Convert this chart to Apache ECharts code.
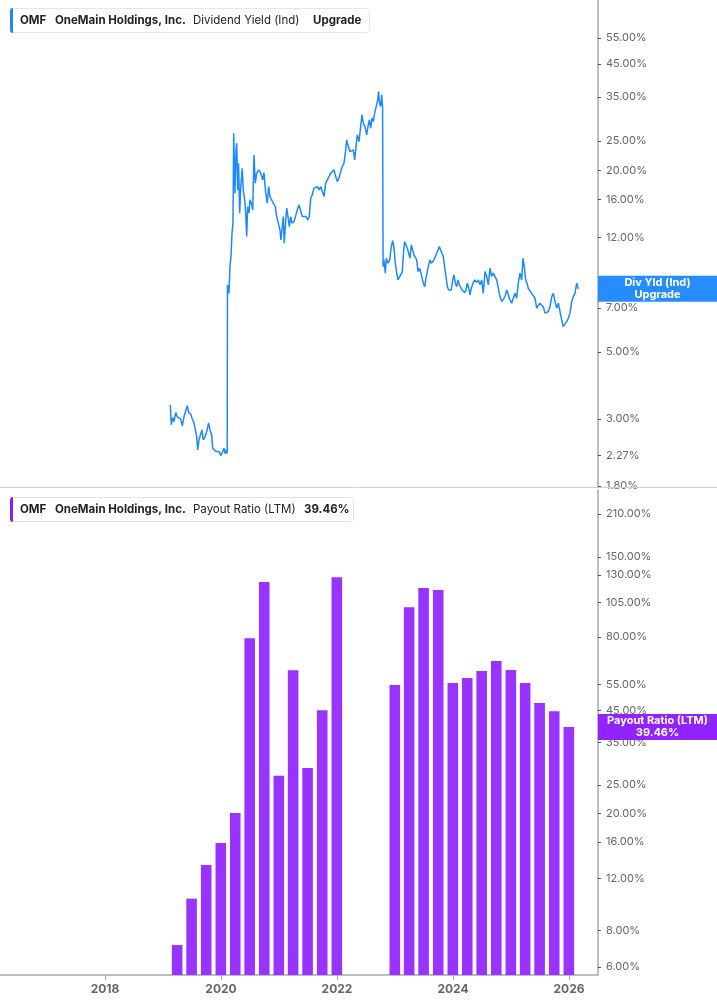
<!DOCTYPE html>
<html><head><meta charset="utf-8">
<script src="https://cdn.jsdelivr.net/npm/echarts@6/dist/echarts.min.js"></script>
<style>html,body{margin:0;padding:0;background:#fff}#c{width:717px;height:1005px}</style>
</head><body><div id="c"></div>
<script>
// Dividend Yield (Ind), % — [decimal year, value]
const dividendYield = [
[2019.126,3.34],[2019.143,2.87],[2019.167,3.03],[2019.190,2.94],[2019.219,3.15],[2019.247,3.05],[2019.276,3.03],[2019.305,3.00],[2019.333,2.85],[2019.362,3.05],
[2019.397,3.22],[2019.419,3.32],[2019.443,3.15],[2019.478,3.12],[2019.505,3.00],[2019.534,2.92],[2019.564,2.91],[2019.581,2.62],[2019.598,2.37],[2019.621,2.56],
[2019.650,2.59],[2019.672,2.76],[2019.695,2.56],[2019.724,2.62],[2019.753,2.72],[2019.786,2.91],[2019.810,2.76],[2019.840,2.66],[2019.857,2.40],[2019.884,2.37],
[2019.914,2.34],[2019.936,2.31],[2019.966,2.34],[2019.995,2.27],[2020.028,2.34],[2020.052,2.40],[2020.074,2.30],[2020.098,2.38],[2020.107,2.31],
[2020.112,8.35],[2020.138,7.83],[2020.155,9.60],[2020.172,10.36],[2020.190,12.38],[2020.207,13.37],[2020.219,26.57],[2020.241,16.81],[2020.259,23.39],[2020.271,24.62],
[2020.288,17.24],[2020.303,21.13],[2020.322,14.43],[2020.338,17.24],[2020.366,20.34],[2020.383,17.24],[2020.409,15.97],[2020.426,14.43],[2020.443,12.07],[2020.460,15.18],
[2020.483,14.43],[2020.500,15.97],[2020.522,15.57],[2020.547,14.80],[2020.569,22.51],[2020.591,18.14],[2020.616,19.58],[2020.650,20.08],[2020.684,19.58],[2020.719,18.61],
[2020.741,19.67],[2020.771,16.81],[2020.798,15.57],[2020.821,17.68],[2020.845,16.38],[2020.874,16.59],[2020.902,15.57],[2020.936,15.18],[2020.960,14.06],[2020.988,13.37],
[2021.017,12.70],[2021.034,11.77],[2021.057,13.02],[2021.074,14.06],[2021.091,11.47],[2021.116,13.71],[2021.133,14.99],[2021.155,14.06],[2021.178,13.02],[2021.202,14.06],
[2021.224,13.37],[2021.259,13.53],[2021.288,13.37],[2021.316,14.80],[2021.345,15.37],[2021.374,15.18],[2021.402,14.06],[2021.431,13.89],[2021.466,14.06],[2021.495,13.71],
[2021.522,14.06],[2021.547,16.18],[2021.574,16.59],[2021.603,17.46],[2021.633,17.24],[2021.660,17.68],[2021.690,17.24],[2021.719,17.68],[2021.747,17.02],[2021.776,16.38],
[2021.805,18.14],[2021.833,18.61],[2021.862,19.08],[2021.891,19.58],[2021.919,19.33],[2021.948,20.08],[2021.978,19.08],[2022.005,18.36],[2022.034,18.85],[2022.064,19.82],
[2022.091,20.59],[2022.121,21.13],[2022.150,23.39],[2022.167,25.24],[2022.195,23.99],[2022.224,23.09],[2022.253,22.80],[2022.281,23.39],[2022.305,21.67],[2022.328,23.99],
[2022.350,26.22],[2022.379,24.92],[2022.409,24.92],[2022.431,30.55],[2022.453,28.68],[2022.483,27.94],[2022.512,26.22],[2022.534,27.94],[2022.557,29.41],[2022.581,27.60],
[2022.603,29.80],[2022.626,29.03],[2022.650,30.95],[2022.678,30.95],[2022.702,34.25],[2022.717,36.49],[2022.734,33.40],[2022.753,32.54],[2022.771,35.58],[2022.786,32.54],
[2022.795,9.60],[2022.809,10.10],[2022.833,9.13],[2022.850,10.23],[2022.879,9.85],[2022.909,10.10],[2022.936,11.18],[2022.960,11.71],[2022.983,11.05],[2023.005,9.85],
[2023.029,9.13],[2023.052,8.67],[2023.074,8.56],[2023.098,9.01],[2023.126,9.24],[2023.150,10.90],[2023.167,11.62],[2023.190,11.33],[2023.212,11.05],[2023.236,10.63],
[2023.259,10.23],[2023.281,11.33],[2023.305,10.90],[2023.328,10.50],[2023.350,10.63],[2023.374,10.10],[2023.397,9.24],[2023.419,9.48],[2023.443,9.24],[2023.466,9.13],
[2023.488,8.46],[2023.512,8.24],[2023.534,8.78],[2023.557,9.24],[2023.579,9.72],[2023.603,10.10],[2023.626,9.85],[2023.650,9.97],[2023.672,10.10],[2023.695,10.36],
[2023.719,10.63],[2023.741,10.58],[2023.764,11.18],[2023.788,11.05],[2023.810,10.63],[2023.833,10.36],[2023.855,9.60],[2023.879,8.90],[2023.902,8.24],[2023.926,8.03],
[2023.948,8.14],[2023.971,8.03],[2023.995,8.67],[2024.017,9.01],[2024.040,8.46],[2024.064,8.24],[2024.086,8.67],[2024.109,8.35],[2024.133,8.24],[2024.155,8.03],
[2024.178,8.14],[2024.202,7.87],[2024.224,8.03],[2024.247,8.46],[2024.271,8.14],[2024.293,7.73],[2024.316,8.14],[2024.345,8.46],[2024.374,8.67],[2024.409,8.51],
[2024.436,8.67],[2024.466,8.35],[2024.495,8.67],[2024.522,7.83],[2024.552,9.24],[2024.581,8.90],[2024.609,8.35],[2024.638,9.48],[2024.667,8.90],[2024.695,9.13],
[2024.724,9.01],[2024.753,8.67],[2024.781,8.14],[2024.810,7.63],[2024.840,7.35],[2024.867,7.26],[2024.897,7.63],[2024.926,8.03],[2024.953,7.93],[2024.983,7.44],
[2025.012,7.26],[2025.040,7.54],[2025.069,7.83],[2025.098,7.54],[2025.126,8.46],[2025.155,9.13],[2025.184,8.67],[2025.207,10.23],[2025.229,9.60],[2025.253,8.67],
[2025.276,8.46],[2025.298,8.14],[2025.328,8.03],[2025.357,7.83],[2025.384,7.83],[2025.414,7.54],[2025.443,6.99],[2025.471,7.07],[2025.500,7.26],[2025.529,7.35],
[2025.557,7.07],[2025.586,6.73],[2025.616,6.64],[2025.643,6.81],[2025.672,7.07],[2025.702,7.63],[2025.729,7.83],[2025.759,7.35],[2025.788,6.99],[2025.816,7.26],
[2025.845,6.81],[2025.874,6.39],[2025.902,6.07],[2025.931,6.00],[2025.960,6.31],[2025.988,6.47],[2026.017,6.73],[2026.047,7.35],[2026.074,7.63],[2026.103,7.83],
[2026.133,8.46],[2026.160,8.10]
];

// Payout Ratio (LTM), % — quarterly
const payoutDates = [
'2019-03-31','2019-06-30','2019-09-30','2019-12-31','2020-03-31','2020-06-30','2020-09-30','2020-12-31',
'2021-03-31','2021-06-30','2021-09-30','2021-12-31',
'2022-12-31','2023-03-31','2023-06-30','2023-09-30','2023-12-31','2024-03-31','2024-06-30','2024-09-30',
'2024-12-31','2025-03-31','2025-06-30','2025-09-30','2025-12-31'
];
const payoutValues = [
7.13,10.26,13.36,15.88,20.1,79.2,123.1,26.9,
61.6,28.6,45.0,127.8,
54.9,101,117.5,115.6,55.7,58.0,61.2,66.2,
61.7,55.7,47.6,44.7,39.46
];

const yieldTicks = [1.8,2.27,3,5,7,8,12,16,20,25,35,45,55];
const payoutTicks = [6,8,12,16,20,25,35,45,55,80,105,130,150,210];
const yearTicks = [2018,2020,2022,2024,2026];

function toYear(s){
  const d = Date.parse(s + 'T00:00:00Z');
  const y = +s.slice(0,4);
  const a = Date.UTC(y,0,1), b = Date.UTC(y+1,0,1);
  return y + (d - a) / (b - a);
}

const FONT = 'Inter, "Noto Sans", sans-serif';
const BLUE = '#1e88ff', PURPLE = '#9933ff', PURPLE_TAG = '#8c1aff';
const chart = echarts.init(document.getElementById('c'), null, {renderer:'canvas'});

const xBase = {type:'value', min:2016.19, max:2026.5, splitLine:{show:false}};
function yAxisCfg(grid, min, max, ticks){
  return {
    gridIndex:grid, type:'log', logBase:10, min:min, max:max, position:'right',
    axisLine:{show:true, lineStyle:{color:'#bdbdbd', width:2}},
    axisTick:{show:true, customValues:ticks, length:3, lineStyle:{color:'#555', width:1}},
    axisLabel:{customValues:ticks, formatter:v => v.toFixed(2) + '%', color:'#666', fontSize:11, margin:8, fontFamily:FONT},
    splitLine:{show:false}
  };
}

chart.setOption({
  animation:false,
  backgroundColor:'#fff',
  grid:[
    {left:0, right:119, top:0, height:487},
    {left:0, right:119, top:490, height:485}
  ],
  xAxis:[
    Object.assign({}, xBase, {gridIndex:0, axisLine:{show:false}, axisTick:{show:false}, axisLabel:{show:false}}),
    Object.assign({}, xBase, {gridIndex:1,
      axisLine:{show:true, lineStyle:{color:'#bdbdbd', width:2}},
      axisTick:{show:true, customValues:yearTicks, length:5, lineStyle:{color:'#aaa'}},
      axisLabel:{customValues:yearTicks, formatter:v => String(Math.round(v)), color:'#666', fontWeight:'bold', fontSize:12, margin:8, fontFamily:FONT}})
  ],
  yAxis:[
    yAxisCfg(0, 1.786, 73.4, yieldTicks),
    yAxisCfg(1, 5.636, 253.5, payoutTicks)
  ],
  series:[
    {type:'line', xAxisIndex:0, yAxisIndex:0, data:dividendYield, showSymbol:false, symbol:'none',
     lineStyle:{color:BLUE, width:1.5}, itemStyle:{color:BLUE}},
    {type:'bar', xAxisIndex:1, yAxisIndex:1, data:payoutDates.map((d,i) => [toYear(d), payoutValues[i]]),
     barWidth:10.6, itemStyle:{color:PURPLE}}
  ]
});

const lastYield = dividendYield[dividendYield.length-1][1];
const lastPayout = payoutValues[payoutValues.length-1];
const yTag1 = chart.convertToPixel({yAxisIndex:0}, lastYield);
const yTag2 = chart.convertToPixel({yAxisIndex:1}, lastPayout);

function legend(y, w, accent, parts){
  const els = [
    {type:'rect', shape:{x:10.5, y:y+0.5, width:w, height:24, r:3}, style:{fill:'#fff', stroke:'#e6e6e6', lineWidth:1}, z:100},
    {type:'rect', shape:{x:10, y:y, width:3, height:25, r:[3,0,0,3]}, style:{fill:accent}, z:101}
  ];
  parts.forEach(p => els.push({type:'text', x:p[0], y:y+12.5, z:102,
    style:{text:p[1], font:(p[2] ? 'bold ' : '') + '11.5px ' + FONT, fill:'#222', verticalAlign:'middle', align:'left'}}));
  return els;
}
function tag(yc, color, l1, l2){
  return [
    {type:'rect', shape:{x:598, y:yc-13, width:119, height:26}, style:{fill:color, opacity:0.96}, z:110},
    {type:'text', x:657.5, y:yc-6, z:111, style:{text:l1, font:'bold 11px ' + FONT, fill:'#fff', align:'center', verticalAlign:'middle'}},
    {type:'text', x:657.5, y:yc+6, z:111, style:{text:l2, font:'bold 11px ' + FONT, fill:'#fff', align:'center', verticalAlign:'middle'}}
  ];
}

chart.setOption({
  graphic:{elements:[].concat(
    [{type:'line', shape:{x1:0, y1:487.5, x2:717, y2:487.5}, style:{stroke:'#cfcfcf', lineWidth:1}, z:90}],
    legend(8, 359, BLUE, [[20,'OMF',true],[55,'OneMain Holdings, Inc.',true],[193,'Dividend Yield (Ind)',false],[313,'Upgrade',true]]),
    legend(497, 343, PURPLE_TAG, [[20,'OMF',true],[55,'OneMain Holdings, Inc.',true],[193,'Payout Ratio (LTM)',false],[304,lastPayout.toFixed(2) + '%',true]]),
    tag(yTag1, BLUE, 'Div Yld (Ind)', 'Upgrade'),
    tag(yTag2, PURPLE_TAG, 'Payout Ratio (LTM)', lastPayout.toFixed(2) + '%')
  )}
});
</script>
</body></html>
